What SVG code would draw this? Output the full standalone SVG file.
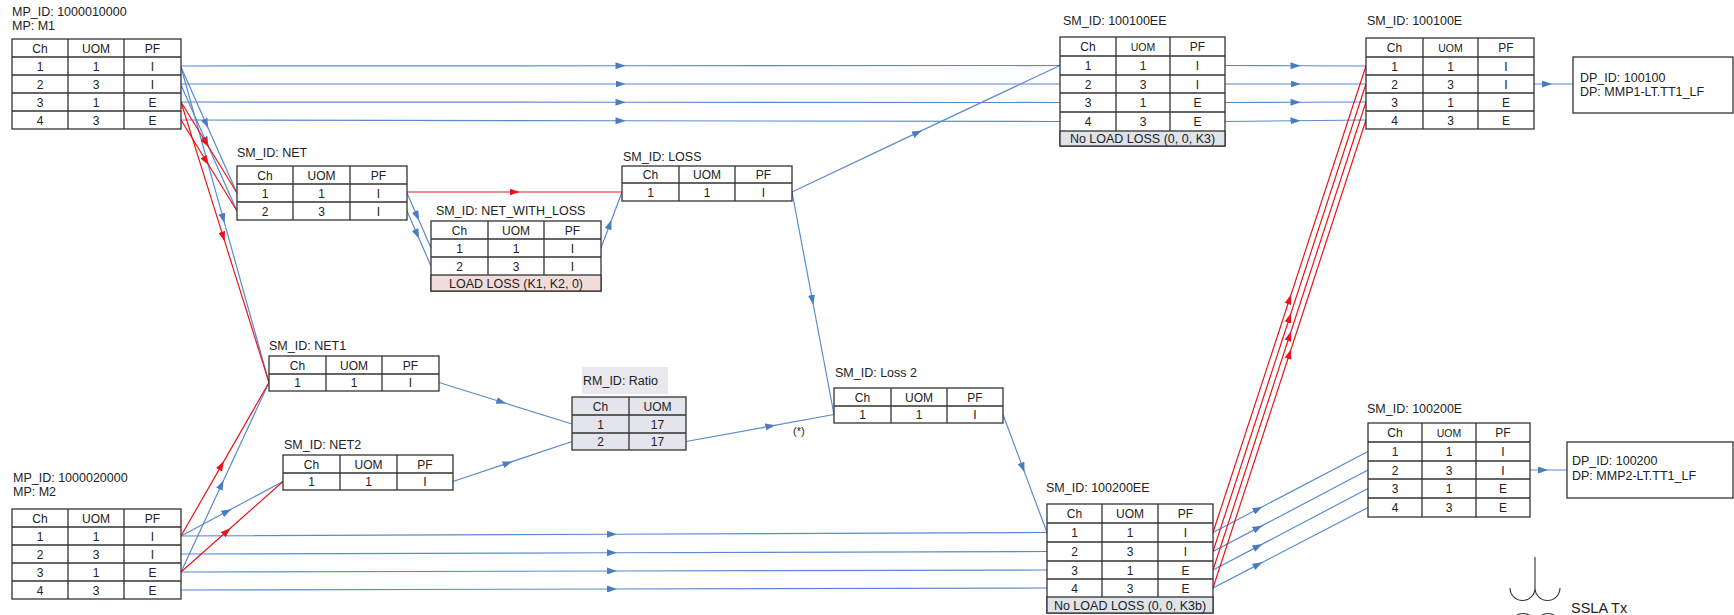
<svg xmlns="http://www.w3.org/2000/svg" width="1734" height="615" viewBox="0 0 1734 615">
<style>
text{font-family:"Liberation Sans",Arial,sans-serif;fill:#222}
.l{font-size:12.5px}
.c{font-size:12px;text-anchor:middle}
.s{font-size:10.5px;text-anchor:middle}
.tb{fill:#fff;stroke:#333;stroke-width:1.3}
.gl{fill:none;stroke:#333;stroke-width:1.3}
.b{fill:none;stroke:#5a8ad0;stroke-width:1.2;marker-mid:url(#ab)}
.r{fill:none;stroke:#e8161c;stroke-width:1.2;marker-mid:url(#ar)}
.sym{fill:none;stroke:#333;stroke-width:1.1}
</style>
<defs>
<marker id="ab" markerUnits="userSpaceOnUse" viewBox="0 0 10 7" markerWidth="10" markerHeight="7" refX="5" refY="3.5" orient="auto"><path d="M0 0L10 3.5L0 7z" fill="#4a7cc4"/></marker>
<marker id="ar" markerUnits="userSpaceOnUse" viewBox="0 0 10 7" markerWidth="10" markerHeight="7" refX="5" refY="3.5" orient="auto"><path d="M0 0L10 3.5L0 7z" fill="#e8161c"/></marker>
</defs>

<g id="connectors">
<path class="b" d="M181 66L620.5 65.75L1060 65.5"/>
<path class="b" d="M181 84L620.5 84L1060 84"/>
<path class="b" d="M181 102L620.5 102.25L1060 102.5"/>
<path class="b" d="M181 120L620.5 120.75L1060 121.5"/>
<path class="b" d="M181 67L206.2 123.7L237 193"/>
<path class="b" d="M181 85L206.2 141.7L237 211"/>
<path class="b" d="M181 67L223.2 218.4L269 382.5"/>
<path class="b" d="M181 572L221.5 484.8L269 382.5"/>
<path class="b" d="M181 536L226.9 511.5L283 481.5"/>
<path class="b" d="M407 193L417.1 216.1L431 248"/>
<path class="b" d="M407 211L417.1 234.1L431 266"/>
<path class="b" d="M601 248L609.8 224.5L622 192"/>
<path class="b" d="M792 192L917.4 132.6L1060 65.5"/>
<path class="b" d="M792 192L812.4 300L834 414.5"/>
<path class="b" d="M439 382.5L501.5 402L572 424"/>
<path class="b" d="M453 481.5L507.7 463.1L572 441.5"/>
<path class="b" d="M686 441.5L770.4 426.1L834 414.5"/>
<path class="b" d="M1003 414.5L1022.8 467.6L1047 532.5"/>
<path class="b" d="M181 536L612 534.25L1047 532.5"/>
<path class="b" d="M181 554L612 552.75L1047 551.5"/>
<path class="b" d="M181 572L612 571L1047 570"/>
<path class="b" d="M181 590L612 589L1047 588"/>
<path class="b" d="M1225 65.5L1295.5 65.75L1366 66"/>
<path class="b" d="M1225 84L1295.5 84L1366 84"/>
<path class="b" d="M1225 102.5L1295.5 102.25L1366 102"/>
<path class="b" d="M1225 121.5L1295.5 120.75L1366 120"/>
<path class="b" d="M1213 532.5L1258 509L1368 451.5"/>
<path class="b" d="M1213 551.5L1258 527.9L1368 470"/>
<path class="b" d="M1213 570L1258 546.4L1368 488.5"/>
<path class="b" d="M1213 588L1258 564.6L1368 507.5"/>
<path class="b" d="M1534 84L1547 84L1573 84"/>
<path class="b" d="M1530 470L1543 470L1567 470"/>
<path class="r" d="M181 102L206.2 143L237 193"/>
<path class="r" d="M181 120L206.2 161L237 211"/>
<path class="r" d="M181 102L223.2 236.6L269 382.5"/>
<path class="r" d="M181 536L221.5 465.4L269 382.5"/>
<path class="r" d="M181 572L226.9 531.3L283 481.5"/>
<path class="r" d="M407 192L514.5 192L622 192"/>
<path class="r" d="M1213 532.5L1289.5 299.25L1366 66"/>
<path class="r" d="M1213 551.5L1289.5 317.75L1366 84"/>
<path class="r" d="M1213 570L1289.5 336L1366 102"/>
<path class="r" d="M1213 588L1289.5 354L1366 120"/>
</g>

<g id="m1">
<text class="l" x="12" y="16">MP_ID: 1000010000</text>
<text class="l" x="12" y="30">MP: M1</text>
<rect class="tb" x="12" y="39" width="169" height="90"/>
<path class="gl" d="M12 57H181M12 75H181M12 93H181M12 111H181M68 39V129M124 39V129"/>
<text class="c" x="40" y="52.5">Ch</text><text class="c" x="96" y="52.5">UOM</text><text class="c" x="152.5" y="52.5">PF</text>
<text class="c" x="40" y="70.5">1</text><text class="c" x="96" y="70.5">1</text><text class="c" x="152.5" y="70.5">I</text>
<text class="c" x="40" y="88.5">2</text><text class="c" x="96" y="88.5">3</text><text class="c" x="152.5" y="88.5">I</text>
<text class="c" x="40" y="106.5">3</text><text class="c" x="96" y="106.5">1</text><text class="c" x="152.5" y="106.5">E</text>
<text class="c" x="40" y="124.5">4</text><text class="c" x="96" y="124.5">3</text><text class="c" x="152.5" y="124.5">E</text>
</g>

<g id="m2">
<text class="l" x="13" y="482">MP_ID: 1000020000</text>
<text class="l" x="13" y="496">MP: M2</text>
<rect class="tb" x="12" y="509" width="169" height="90"/>
<path class="gl" d="M12 527H181M12 545H181M12 563H181M12 581H181M68 509V599M124 509V599"/>
<text class="c" x="40" y="522.5">Ch</text><text class="c" x="96" y="522.5">UOM</text><text class="c" x="152.5" y="522.5">PF</text>
<text class="c" x="40" y="540.5">1</text><text class="c" x="96" y="540.5">1</text><text class="c" x="152.5" y="540.5">I</text>
<text class="c" x="40" y="558.5">2</text><text class="c" x="96" y="558.5">3</text><text class="c" x="152.5" y="558.5">I</text>
<text class="c" x="40" y="576.5">3</text><text class="c" x="96" y="576.5">1</text><text class="c" x="152.5" y="576.5">E</text>
<text class="c" x="40" y="594.5">4</text><text class="c" x="96" y="594.5">3</text><text class="c" x="152.5" y="594.5">E</text>
</g>

<g id="net">
<text class="l" x="237" y="157">SM_ID: NET</text>
<rect class="tb" x="237" y="166" width="170" height="54"/>
<path class="gl" d="M237 184H407M237 202H407M293 166V220M350 166V220"/>
<text class="c" x="265" y="179.5">Ch</text><text class="c" x="321.5" y="179.5">UOM</text><text class="c" x="378.5" y="179.5">PF</text>
<text class="c" x="265" y="197.5">1</text><text class="c" x="321.5" y="197.5">1</text><text class="c" x="378.5" y="197.5">I</text>
<text class="c" x="265" y="215.5">2</text><text class="c" x="321.5" y="215.5">3</text><text class="c" x="378.5" y="215.5">I</text>
</g>

<g id="net_with_loss">
<text class="l" x="436" y="215">SM_ID: NET_WITH_LOSS</text>
<rect class="tb" x="431" y="221" width="170" height="70"/>
<rect x="431" y="275" width="170" height="16" fill="#f2dcdb" stroke="#333" stroke-width="1.3"/>
<path class="gl" d="M431 239H601M431 257H601M488 221V275M544 221V275"/>
<text class="c" x="459.5" y="234.5">Ch</text><text class="c" x="516" y="234.5">UOM</text><text class="c" x="572.5" y="234.5">PF</text>
<text class="c" x="459.5" y="252.5">1</text><text class="c" x="516" y="252.5">1</text><text class="c" x="572.5" y="252.5">I</text>
<text class="c" x="459.5" y="270.5">2</text><text class="c" x="516" y="270.5">3</text><text class="c" x="572.5" y="270.5">I</text>
<text class="c" x="516" y="287.5" style="font-size:12.5px">LOAD LOSS (K1, K2, 0)</text>
</g>

<g id="loss">
<text class="l" x="623" y="161">SM_ID: LOSS</text>
<rect class="tb" x="622" y="166" width="170" height="35"/>
<path class="gl" d="M622 183H792M679 166V201M735 166V201"/>
<text class="c" x="650.5" y="179">Ch</text><text class="c" x="707" y="179">UOM</text><text class="c" x="763.5" y="179">PF</text>
<text class="c" x="650.5" y="196.5">1</text><text class="c" x="707" y="196.5">1</text><text class="c" x="763.5" y="196.5">I</text>
</g>

<g id="net1">
<text class="l" x="269" y="350">SM_ID: NET1</text>
<rect class="tb" x="269" y="356" width="170" height="35"/>
<path class="gl" d="M269 374H439M326 356V391M382 356V391"/>
<text class="c" x="297.5" y="369.5">Ch</text><text class="c" x="354" y="369.5">UOM</text><text class="c" x="410.5" y="369.5">PF</text>
<text class="c" x="297.5" y="387">1</text><text class="c" x="354" y="387">1</text><text class="c" x="410.5" y="387">I</text>
</g>

<g id="net2">
<text class="l" x="284" y="449">SM_ID: NET2</text>
<rect class="tb" x="283" y="455" width="170" height="35"/>
<path class="gl" d="M283 473H453M340 455V490M397 455V490"/>
<text class="c" x="311.5" y="468.5">Ch</text><text class="c" x="368.5" y="468.5">UOM</text><text class="c" x="425" y="468.5">PF</text>
<text class="c" x="311.5" y="486">1</text><text class="c" x="368.5" y="486">1</text><text class="c" x="425" y="486">I</text>
</g>

<g id="ratio">
<rect x="582" y="367" width="86" height="27" fill="#e8e8ee"/>
<text class="l" x="583" y="385">RM_ID: Ratio</text>
<rect class="tb" x="572" y="397" width="114" height="53" style="fill:#e4e4ec"/>
<path class="gl" d="M572 415H686M572 433H686M629 397V450"/>
<text class="c" x="600.5" y="410.5">Ch</text><text class="c" x="657.5" y="410.5">UOM</text>
<text class="c" x="600.5" y="428.5">1</text><text class="c" x="657.5" y="428.5">17</text>
<text class="c" x="600.5" y="446">2</text><text class="c" x="657.5" y="446">17</text>
</g>

<g id="loss2">
<text class="l" x="835" y="377">SM_ID: Loss 2</text>
<rect class="tb" x="834" y="388" width="169" height="35"/>
<path class="gl" d="M834 406H1003M891 388V423M947 388V423"/>
<text class="c" x="862.5" y="401.5">Ch</text><text class="c" x="919" y="401.5">UOM</text><text class="c" x="975" y="401.5">PF</text>
<text class="c" x="862.5" y="419">1</text><text class="c" x="919" y="419">1</text><text class="c" x="975" y="419">I</text>
<text class="l" x="793" y="435" style="font-size:11px">(*)</text>
</g>

<g id="sm100100ee">
<text class="l" x="1063" y="25">SM_ID: 100100EE</text>
<rect class="tb" x="1060" y="37" width="165" height="109"/>
<rect x="1060" y="131" width="165" height="15" fill="#dfe3ea" stroke="#333" stroke-width="1.3"/>
<path class="gl" d="M1060 56H1225M1060 75H1225M1060 93H1225M1060 112H1225M1116 37V131M1170 37V131"/>
<text class="c" x="1088" y="51">Ch</text><text class="s" x="1143" y="50.5">UOM</text><text class="c" x="1197.5" y="51">PF</text>
<text class="c" x="1088" y="70">1</text><text class="c" x="1143" y="70">1</text><text class="c" x="1197.5" y="70">I</text>
<text class="c" x="1088" y="88.5">2</text><text class="c" x="1143" y="88.5">3</text><text class="c" x="1197.5" y="88.5">I</text>
<text class="c" x="1088" y="107">3</text><text class="c" x="1143" y="107">1</text><text class="c" x="1197.5" y="107">E</text>
<text class="c" x="1088" y="126">4</text><text class="c" x="1143" y="126">3</text><text class="c" x="1197.5" y="126">E</text>
<text class="c" x="1142.5" y="143" style="font-size:12.5px">No LOAD LOSS (0, 0, K3)</text>
</g>

<g id="sm100100e">
<text class="l" x="1367" y="25">SM_ID: 100100E</text>
<rect class="tb" x="1366" y="38" width="168" height="91"/>
<path class="gl" d="M1366 57H1534M1366 75H1534M1366 93H1534M1366 111H1534M1423 38V129M1478 38V129"/>
<text class="c" x="1394.5" y="52">Ch</text><text class="s" x="1450.5" y="51.5">UOM</text><text class="c" x="1506" y="52">PF</text>
<text class="c" x="1394.5" y="70.5">1</text><text class="c" x="1450.5" y="70.5">1</text><text class="c" x="1506" y="70.5">I</text>
<text class="c" x="1394.5" y="88.5">2</text><text class="c" x="1450.5" y="88.5">3</text><text class="c" x="1506" y="88.5">I</text>
<text class="c" x="1394.5" y="106.5">3</text><text class="c" x="1450.5" y="106.5">1</text><text class="c" x="1506" y="106.5">E</text>
<text class="c" x="1394.5" y="124.5">4</text><text class="c" x="1450.5" y="124.5">3</text><text class="c" x="1506" y="124.5">E</text>
</g>

<g id="dp100100">
<rect class="tb" x="1573" y="57" width="160" height="56"/>
<text class="l" x="1580" y="82">DP_ID: 100100</text>
<text class="l" x="1580" y="96">DP: MMP1-LT.TT1_LF</text>
</g>

<g id="sm100200ee">
<text class="l" x="1046" y="492">SM_ID: 100200EE</text>
<rect class="tb" x="1047" y="504" width="166" height="109"/>
<rect x="1047" y="597" width="166" height="16" fill="#dfe3ea" stroke="#333" stroke-width="1.3"/>
<path class="gl" d="M1047 523H1213M1047 542H1213M1047 561H1213M1047 579H1213M1102 504V597M1158 504V597"/>
<text class="c" x="1074.5" y="518">Ch</text><text class="c" x="1130" y="518">UOM</text><text class="c" x="1185.5" y="518">PF</text>
<text class="c" x="1074.5" y="537">1</text><text class="c" x="1130" y="537">1</text><text class="c" x="1185.5" y="537">I</text>
<text class="c" x="1074.5" y="556">2</text><text class="c" x="1130" y="556">3</text><text class="c" x="1185.5" y="556">I</text>
<text class="c" x="1074.5" y="574.5">3</text><text class="c" x="1130" y="574.5">1</text><text class="c" x="1185.5" y="574.5">E</text>
<text class="c" x="1074.5" y="592.5">4</text><text class="c" x="1130" y="592.5">3</text><text class="c" x="1185.5" y="592.5">E</text>
<text class="c" x="1130" y="609.5" style="font-size:12.5px">No LOAD LOSS (0, 0, K3b)</text>
</g>

<g id="sm100200e">
<text class="l" x="1367" y="413">SM_ID: 100200E</text>
<rect class="tb" x="1368" y="423" width="162" height="94"/>
<path class="gl" d="M1368 442H1530M1368 461H1530M1368 479H1530M1368 498H1530M1422 423V517M1476 423V517"/>
<text class="c" x="1395" y="437">Ch</text><text class="s" x="1449" y="436.5">UOM</text><text class="c" x="1503" y="437">PF</text>
<text class="c" x="1395" y="456">1</text><text class="c" x="1449" y="456">1</text><text class="c" x="1503" y="456">I</text>
<text class="c" x="1395" y="474.5">2</text><text class="c" x="1449" y="474.5">3</text><text class="c" x="1503" y="474.5">I</text>
<text class="c" x="1395" y="493">3</text><text class="c" x="1449" y="493">1</text><text class="c" x="1503" y="493">E</text>
<text class="c" x="1395" y="512">4</text><text class="c" x="1449" y="512">3</text><text class="c" x="1503" y="512">E</text>
</g>

<g id="dp100200">
<rect class="tb" x="1567" y="442" width="166" height="56"/>
<text class="l" x="1572" y="465">DP_ID: 100200</text>
<text class="l" x="1572" y="480">DP: MMP2-LT.TT1_LF</text>
</g>

<g id="ssla_tx">
<path class="sym" d="M1535 557V588M1510 588a12.5 12.5 0 0 0 25 0a12.5 12.5 0 0 0 25 0"/>
<circle class="sym" cx="1523" cy="626" r="12.5"/>
<circle class="sym" cx="1548" cy="626" r="12.5"/>
<text x="1571" y="613" style="font-size:14.5px">SSLA Tx</text>
</g>
</svg>
